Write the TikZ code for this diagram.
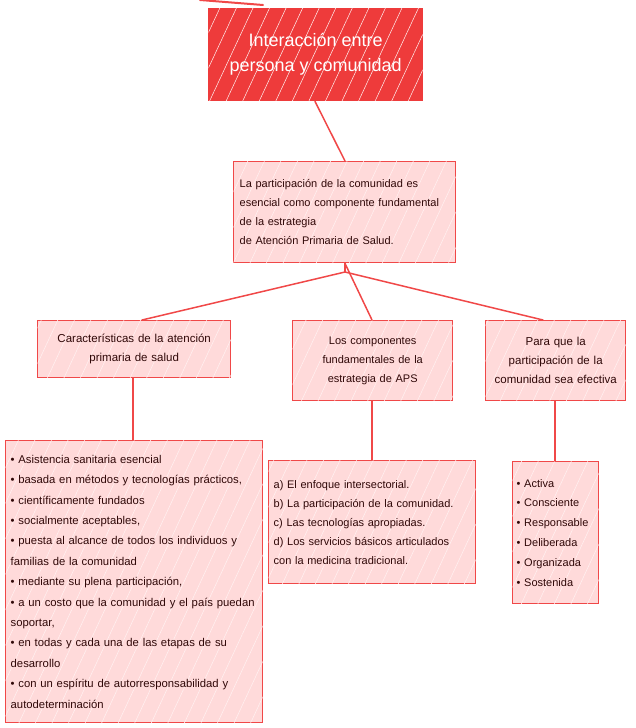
\documentclass[tikz,border=0pt]{standalone}
\usepackage{fontspec}
\setmainfont{Liberation Sans}
\usetikzlibrary{calc,patterns.meta}
\definecolor{redmain}{HTML}{EE3B3B}
\definecolor{redline}{HTML}{F04848}
\definecolor{pinkfill}{HTML}{FFDADA}
\definecolor{textdark}{HTML}{300808}
\definecolor{hatch}{HTML}{FFF2F2}
\tikzset{
  boxbase/.style={draw=redline, line width=1.4pt, anchor=north west, inner sep=5pt,
    postaction={pattern={Lines[angle=65,distance=15pt,line width=0.5pt]}, pattern color=hatch}},
  topbox/.style={boxbase, fill=redmain, draw=redmain, text=white, align=center,
    font=\fontsize{18}{25}\selectfont},
  midbox/.style={boxbase, fill=pinkfill, text=textdark,
    font=\fontsize{11}{19}\selectfont},
  conn/.style={draw=redline, line width=1.5pt, line cap=round},
}
\begin{document}
\begin{tikzpicture}[x=1pt,y=-1pt]
\useasboundingbox (0,0) rectangle (635,728);
% top
\node[topbox, minimum width=214pt, minimum height=92pt] (top) at (208,8)
  {Interacción entre\\persona y comunidad};
% second
\node[midbox, minimum width=222pt, minimum height=101pt, text width=210pt, align=left,
  font=\fontsize{11}{19}\selectfont] (sec) at (233,161)
  {La participación de la comunidad es\\esencial como componente fundamental\\de la estrategia\\de Atención Primaria de Salud.\\[-4pt]};
% third row
\node[midbox, minimum width=193pt, minimum height=57pt, text width=181pt, align=center,
  font=\fontsize{11.5}{19}\selectfont] (left) at (37,320)
  {Características de la atención\\primaria de salud};
\node[midbox, minimum width=160pt, minimum height=80pt, text width=148pt, align=center,
  font=\fontsize{11}{19}\selectfont] (mid) at (292,320)
  {Los componentes\\fundamentales de la\\estrategia de APS};
\node[midbox, minimum width=140pt, minimum height=80pt, text width=128pt, align=center,
  font=\fontsize{11.5}{19}\selectfont] (right) at (485,320)
  {Para que la\\participación de la\\comunidad sea efectiva};
% bottom row
\node[midbox, minimum width=257pt, minimum height=282pt, text width=247pt, align=left,
  inner sep=4pt, font=\fontsize{11.3}{20.4}\selectfont] (lb) at (5,440)
  {• Asistencia sanitaria esencial\\
   • basada en métodos y tecnologías prácticos,\\
   • científicamente fundados\\
   • socialmente aceptables,\\
   • puesta al alcance de todos los individuos y\\
   familias de la comunidad\\
   • mediante su plena participación,\\
   • a un costo que la comunidad y el país puedan\\
   soportar,\\
   • en todas y cada una de las etapas de su\\
   desarrollo\\
   • con un espíritu de autorresponsabilidad y\\
   autodeterminación};
\node[midbox, minimum width=207pt, minimum height=123pt, text width=197pt, align=left,
  inner sep=4pt, font=\fontsize{11}{19}\selectfont] (mb) at (268,460)
  {a) El enfoque intersectorial.\\
   b) La participación de la comunidad.\\
   c) Las tecnologías apropiadas.\\
   d) Los servicios básicos articulados\\
   con la medicina tradicional.};
\node[midbox, minimum width=86pt, minimum height=142pt, text width=78pt, align=left,
  inner sep=3pt, font=\fontsize{11}{19.8}\selectfont] (rb) at (512,461)
  {• Activa\\• Consciente\\• Responsable\\• Deliberada\\• Organizada\\• Sostenida};
% connectors
\coordinate (offtop) at (200,0);
\draw[conn, line width=2pt] (offtop) -- ($(top.north west)+(55,-3)$);
\draw[conn] ($(top.south west)+(107,0)$) -- ($(sec.north west)+(112,0)$);
\coordinate (J) at (345,272);
\draw[conn] ($(sec.south west)+(112,0)$) -- (J);
\draw[conn] (J) -- ($(left.north west)+(105,0)$);
\draw[conn] ($(sec.south west)+(112,0)$) -- ($(mid.north west)+(80,0)$);
\draw[conn] (J) -- ($(right.north west)+(58,0)$);
\draw[conn] ($(left.south west)+(96,0)$) -- ($(lb.north west)+(128,0)$);
\draw[conn] ($(mid.south west)+(80,0)$) -- ($(mb.north west)+(104,0)$);
\draw[conn] ($(right.south west)+(70,0)$) -- ($(rb.north west)+(43,0)$);
\end{tikzpicture}
\end{document}
